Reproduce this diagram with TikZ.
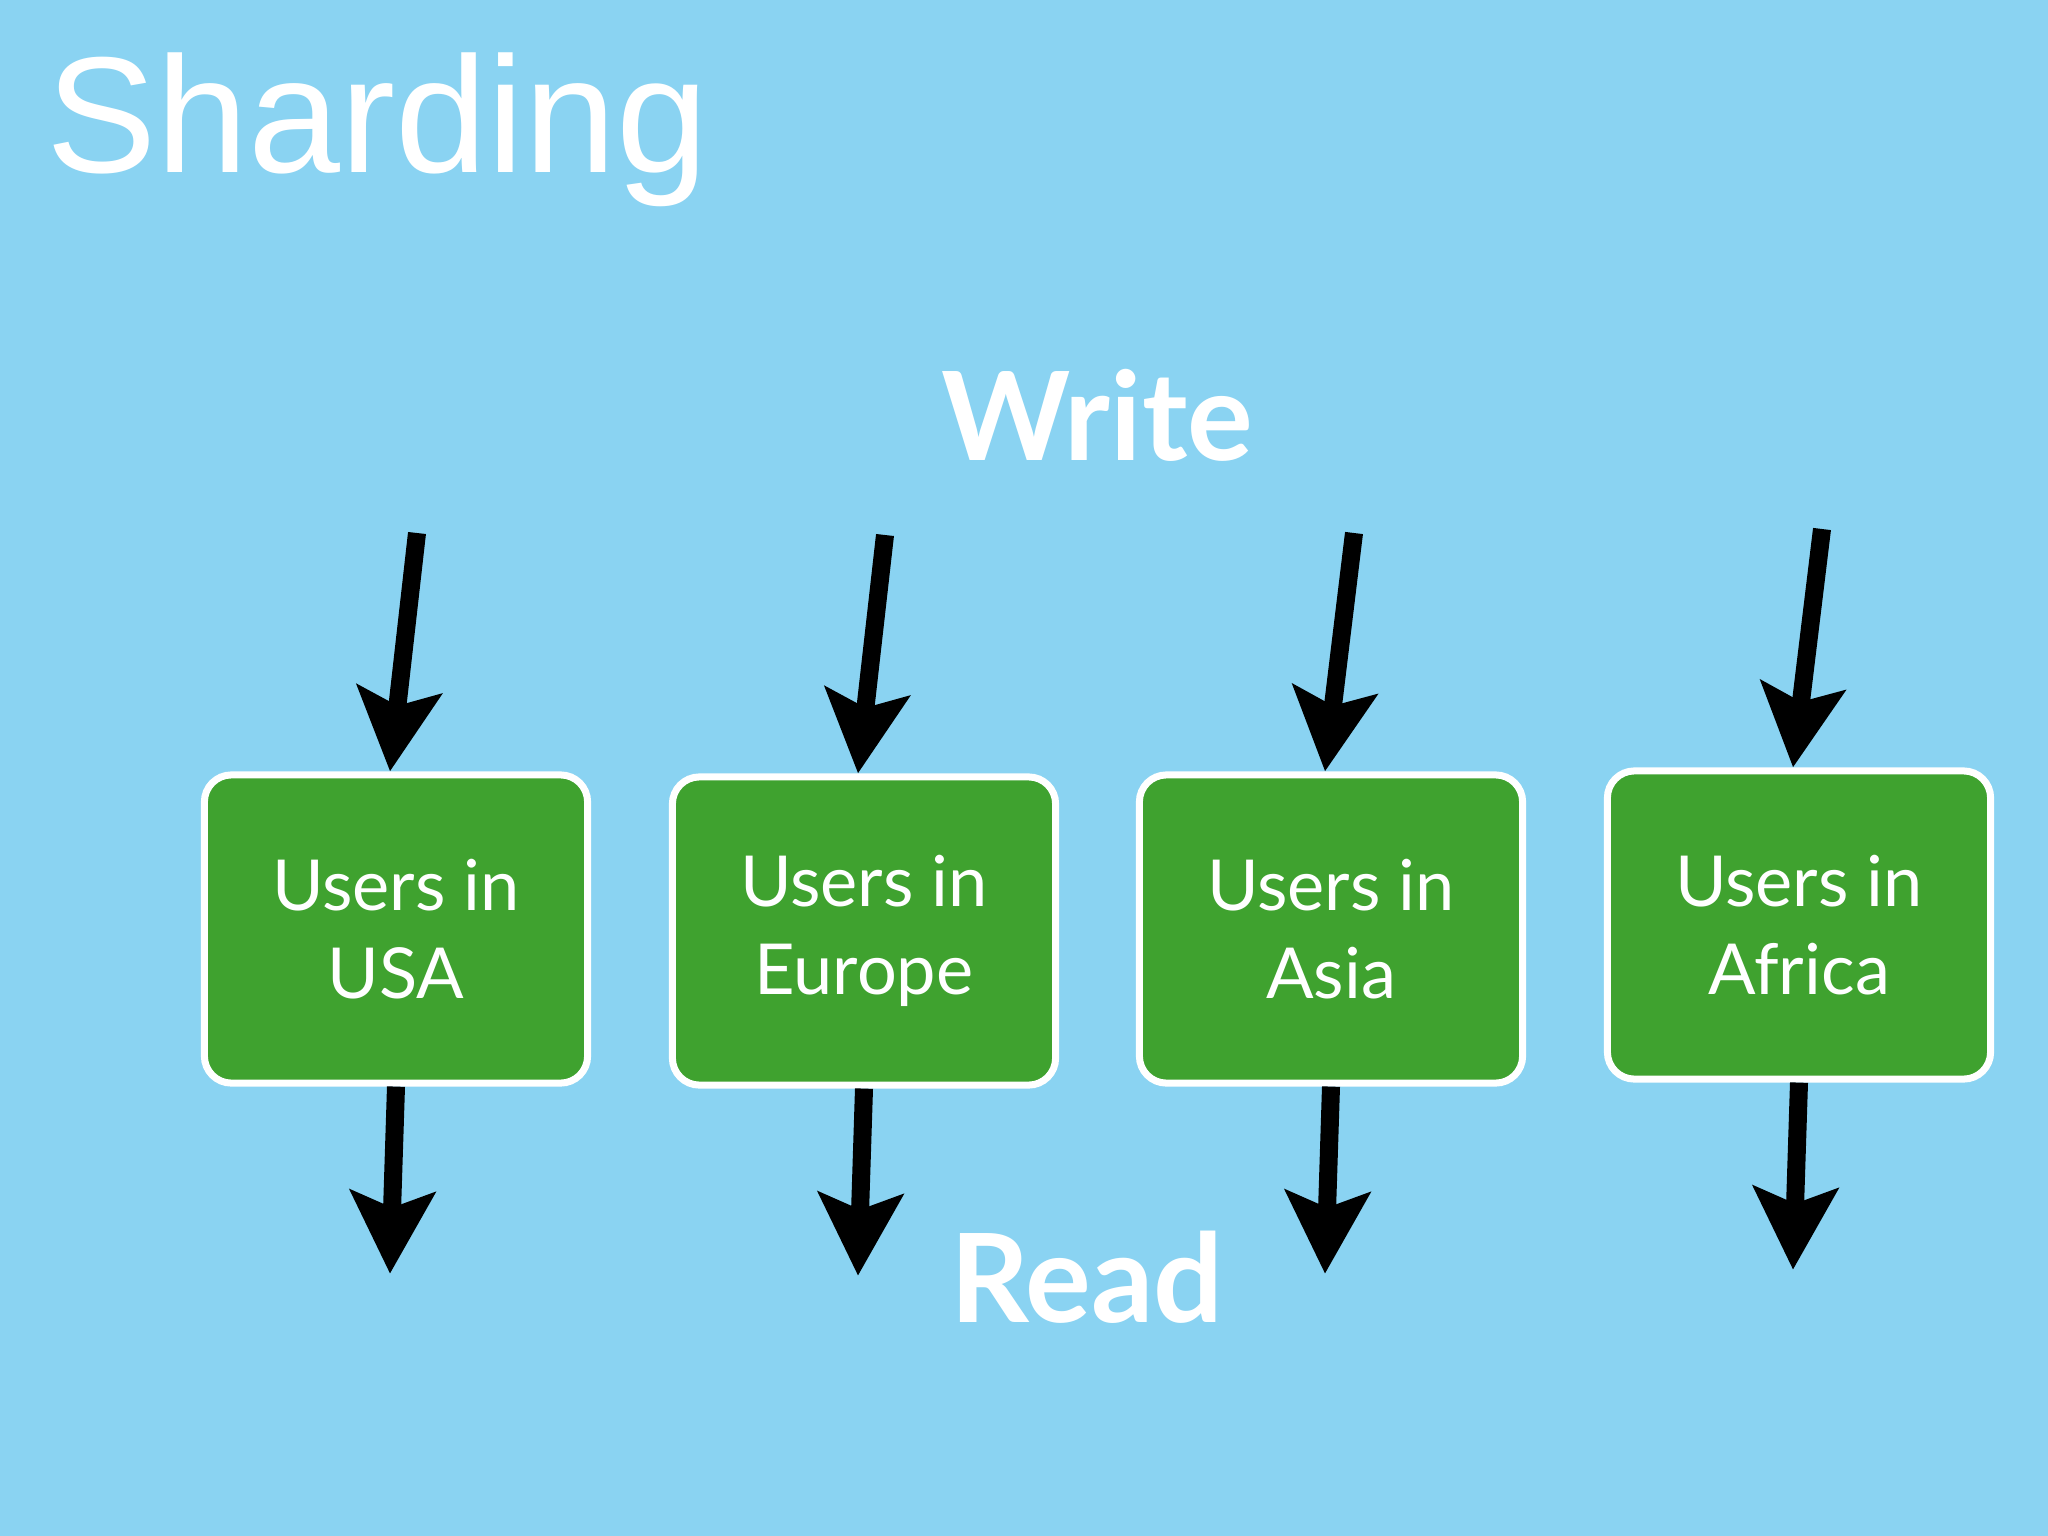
\documentclass[tikz,border=0pt]{standalone}
\usepackage{fontspec}
\setmainfont{Lato}
\newfontfamily\titlefont{Liberation Sans}
\usetikzlibrary{arrows.meta}
\definecolor{bg}{HTML}{8AD3F2}
\definecolor{gr}{HTML}{3FA22F}
\tikzset{
 shard/.style={draw=white,line width=0.07cm,fill=gr,rounded corners=0.27cm,minimum width=3.83cm,minimum height=3.08cm,text=white,align=center,font=\fontsize{20}{25}\selectfont,inner sep=0},
 arr/.style={line width=0.18cm,-{Stealth[length=0.82cm,width=0.84cm,inset=0.16cm]}},
 big/.style={text=white,font=\fontsize{35}{40}\selectfont\bfseries,anchor=base}
}
\begin{document}
\begin{tikzpicture}[x=0.01cm,y=-0.01cm]
\fill[bg] (0,0) rectangle (2048,1536);
\useasboundingbox (0,0) rectangle (2048,1536);
\node[anchor=base west,text=white,font=\titlefont\fontsize{47}{50}\selectfont,inner sep=0] (title) at (46,172) {Sharding};
\node[big] (write) at (1097,460) {Write};
\node[big] (read) at (1087,1322) {Read};
\node[shard] (usa) at (396,929) {Users in\\USA};
\node[shard] (eur) at (864,931) {Users in\\Europe};
\node[shard] (asia) at (1331,929) {Users in\\Asia};
\node[shard] (afr) at (1799,925) {Users in\\Africa};
\foreach \n/\x/\y in {usa/417/533,eur/885/535,asia/1354/533,afr/1822/529}{
 \coordinate (\n-in) at (\x,\y);
 \draw[arr] (\n-in) -- ([xshift=-0.06cm]\n.north);
 \coordinate (\n-out) at ([xshift=-0.06cm,yshift=-1.87cm]\n.south);
 \draw[arr] ([xshift=-0.0cm]\n.south) -- (\n-out);
}
\end{tikzpicture}
\end{document}
